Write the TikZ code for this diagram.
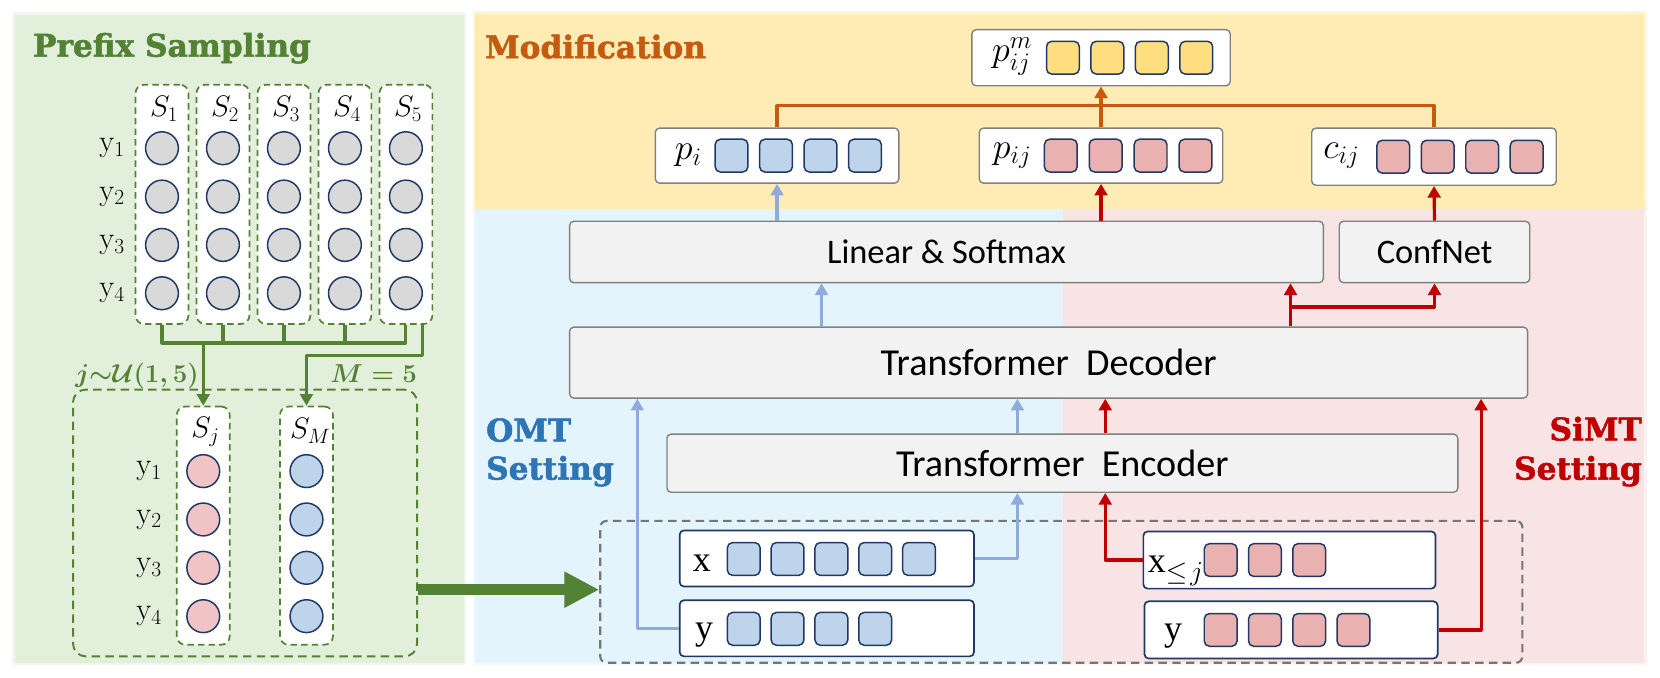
\documentclass[tikz,border=0pt]{standalone}
\usepackage{fix-cm}
\usepackage[no-math]{fontspec}
\setmainfont{Carlito}
\newfontfamily\titlefont[BoldFeatures={FakeBold=1.6}]{DejaVu Serif}
\newfontfamily\serifx{Liberation Serif}
\usetikzlibrary{arrows.meta}
\definecolor{tgreen}{RGB}{84,130,53}
\definecolor{torange}{RGB}{197,90,17}
\definecolor{tblue}{RGB}{46,117,182}
\definecolor{tred}{RGB}{192,0,0}
\definecolor{abl}{RGB}{143,170,220}
\definecolor{bggreen}{RGB}{226,239,218}
\definecolor{bgyellow}{RGB}{255,235,180}
\definecolor{bgblue}{RGB}{227,244,252}
\definecolor{bgpink}{RGB}{248,228,228}
\definecolor{boxfill}{RGB}{242,242,242}
\definecolor{boxgray}{RGB}{128,128,128}
\definecolor{navy}{RGB}{32,56,100}
\definecolor{sqblue}{RGB}{190,212,234}
\definecolor{sqpink}{RGB}{234,177,177}
\definecolor{sqyellow}{RGB}{255,222,128}
\definecolor{cgray}{RGB}{217,217,217}
\definecolor{cpink}{RGB}{240,196,196}
\definecolor{cblue}{RGB}{190,212,234}
\definecolor{dashgray}{RGB}{118,118,118}
\newcommand\ttlfont{\titlefont\bfseries\fontsize{29.5}{31}\selectfont}
\newcommand\mlab{\fontsize{34}{36}\selectfont}
\newcommand\slab{\fontsize{28}{30}\selectfont}
\newcommand\ylab{\fontsize{29}{31}\selectfont}
\newcommand\inlab{\serifx\fontsize{34}{36}\selectfont}
\newcommand\glab{\fontsize{24.5}{26}\selectfont}
\newcommand\bigtxt{\fontsize{36}{38}\selectfont}
\newcommand\midtxt{\fontsize{32.5}{34}\selectfont}
\newcommand\jutext{\mbox{\boldmath$j{\sim}\mathcal{U}(1,5)$}}
\newcommand\mtext{\mbox{\boldmath$M=5$}}
\begin{document}
\begin{tikzpicture}[x=1pt,y=-1pt,line join=round,
  gbox/.style={draw=boxgray,fill=boxfill,rounded corners=4pt,line width=1.3pt,inner sep=0pt},
  wbox/.style={draw=boxgray,fill=white,rounded corners=4pt,line width=1.3pt,inner sep=0pt},
  ibox/.style={draw=navy,fill=white,rounded corners=4pt,line width=1.6pt,inner sep=0pt},
  sq/.style={draw=navy,line width=1.4pt,rounded corners=5pt,minimum width=31pt,minimum height=31pt,inner sep=0pt},
  dot/.style={circle,draw=navy,line width=1.4pt,minimum size=31pt,inner sep=0pt},
  colbox/.style={draw=tgreen,dash pattern=on 6pt off 4pt,line width=1.6pt,fill=white,rounded corners=8pt,inner sep=0pt},
  ttl/.style={font=\ttlfont,inner sep=0pt},
  barrow/.style={draw=abl,line width=3pt,-{Triangle[length=11pt,width=12pt]}},
  rarrow/.style={draw=tred,line width=3pt,-{Triangle[length=11pt,width=12pt]}},
  oarrow/.style={draw=torange,line width=3pt,-{Triangle[length=11pt,width=12pt]}},
  oline/.style={draw=torange,line width=3pt},
  gline/.style={draw=tgreen,line width=3pt},
  garrow/.style={draw=tgreen,line width=3pt,-{Triangle[length=11pt,width=12pt]}},
  bigarrow/.style={draw=tgreen,line width=10pt,-{Triangle[length=33pt,width=32pt]}},
  glow/.style={line width=5pt,opacity=0.45}
]
\useasboundingbox (0,0) rectangle (1568,640.4);
\fill[white] (0,0) rectangle (1568,640.4);
% panels
\draw[glow,draw=bggreen] (14,14) rectangle (438,626);
\fill[bggreen] (14,14) rectangle (438,626);
\draw[glow,draw=bgyellow] (449,13) rectangle (1553,197);
\draw[glow,draw=bgpink] (1004,197) rectangle (1553,626);
\draw[glow,draw=bgblue] (449,197) rectangle (1004,626);
\fill[bgyellow] (449,13) rectangle (1553,197);
\fill[bgblue] (449,197) rectangle (1004,626);
\fill[bgpink] (1004,197) rectangle (1553,626);
% titles
\node[ttl,text=tgreen,anchor=base west] (tps) at (31,53.5) {Prefix Sampling};
\node[ttl,text=torange,anchor=base west] (tmod) at (458,55) {Modification};
\node[ttl,text=tblue,anchor=base west] (tomt1) at (459,417) {OMT};
\node[ttl,text=tblue,anchor=base west] (tomt2) at (459,453) {Setting};
\node[ttl,text=tred,anchor=base east] (tsi1) at (1551,416) {SiMT};
\node[ttl,text=tred,anchor=base east] (tsi2) at (1551,453) {Setting};
% ---------- left panel ----------
\foreach \k in {1,...,5}{
  \pgfmathsetmacro{\cx}{153+57.6*(\k-1)}
  \node[colbox,minimum width=50pt,minimum height=226pt] (col\k) at (\cx,193) {};
  \node[font=\slab,inner sep=0pt] (sl\k) at (\cx+2,103) {$S_{\k}$};
  \foreach \r in {1,...,4}{
    \pgfmathsetmacro{\cy}{140+45.67*(\r-1)}
    \node[dot,fill=cgray] (c\k\r) at (\cx,\cy) {};
  }
}
\foreach \r in {1,...,4}{
  \pgfmathsetmacro{\cy}{140+45.67*(\r-1)}
  \node[font=\ylab,anchor=east,inner sep=0pt] (yl\r) at (118,\cy) {$\mathrm{y}_{\r}$};
}
\node[draw=tgreen,dash pattern=on 8pt off 5pt,line width=1.8pt,rounded corners=12pt,minimum width=325pt,minimum height=252pt] (grp) at (231.5,494) {};
\node[colbox,minimum width=50pt,minimum height=225pt] (sj) at (192,496.5) {};
\node[colbox,minimum width=50pt,minimum height=225pt] (sm) at (289.5,496.5) {};
\node[font=\slab,inner sep=0pt] (slj) at (194,408) {$S_{j}$};
\node[font=\slab,inner sep=0pt] (slm) at (293,407) {$S_{M}$};
\foreach \r in {1,...,4}{
  \pgfmathsetmacro{\cy}{445+45.67*(\r-1)}
  \node[dot,fill=cpink] (pj\r) at (192,\cy) {};
  \node[dot,fill=cblue] (pm\r) at (289.5,\cy) {};
  \node[font=\ylab,anchor=east,inner sep=0pt] (yg\r) at (153,\cy) {$\mathrm{y}_{\r}$};
}
\node[text=tgreen,font=\glab,anchor=base west,inner sep=0pt] (ju) at (71,361) {\jutext};
\node[text=tgreen,font=\glab,anchor=base east,inner sep=0pt] (m5) at (394,361) {\mtext};
\coordinate (hl) at (0,324);
\draw[gline] (col1.south) -- (col1.south |- hl) -- (col5.south |- hl) -- (col5.south);
\foreach \k in {2,3,4}{ \draw[gline] (col\k.south) -- (col\k.south |- hl); }
\draw[garrow] (sj.north |- hl) -- (sj.north);
\draw[garrow] ([xshift=16pt]col5.south) -- ++(0,29) -| (sm.north);
% ---------- right: input ----------
\node[draw=dashgray,dash pattern=on 8pt off 5pt,line width=2pt,rounded corners=6pt,minimum width=871pt,minimum height=134pt] (inbox) at (1002.5,559) {};
\draw[bigarrow] ([yshift=-63pt]grp.east) -- ([yshift=-63pt]grp.east -| inbox.west);
\node[ibox,minimum width=278pt,minimum height=53pt] (xo) at (781,527.5) {};
\node[ibox,minimum width=278pt,minimum height=53pt] (yo) at (781,593.5) {};
\node[ibox,minimum width=276pt,minimum height=54pt] (xs) at (1218,529) {};
\node[ibox,minimum width=277pt,minimum height=54pt] (ys) at (1219.5,595) {};
\node[font=\inlab,inner sep=0pt,anchor=base] (xol) at (663,540) {x};
\node[font=\inlab,inner sep=0pt,anchor=base] (yol) at (665,604) {y};
\node[font=\inlab,inner sep=0pt,anchor=base west] (xsl) at (1084,541) {x\raisebox{-7pt}{\fontsize{26}{28}\selectfont$\le\! j$}};
\node[font=\inlab,inner sep=0pt,anchor=base] (ysl) at (1108,605) {y};
\foreach \k in {1,...,5}{ \node[sq,fill=sqblue] (xo\k) at ({702.5+41.4*(\k-1)},528) {}; }
\foreach \k in {1,...,4}{ \node[sq,fill=sqblue] (yo\k) at ({702.5+41.4*(\k-1)},594) {}; }
\foreach \k in {1,...,3}{ \node[sq,fill=sqpink] (xs\k) at ({1153+41.8*(\k-1)},529) {}; }
\foreach \k in {1,...,4}{ \node[sq,fill=sqpink] (ys\k) at ({1153+41.8*(\k-1)},595) {}; }
% ---------- right: stack ----------
\node[gbox,minimum width=747pt,minimum height=55pt,font=\bigtxt] (enc) at (1003.5,437.5) {Transformer\hspace{0.45em}Encoder};
\node[gbox,minimum width=905pt,minimum height=67pt,font=\bigtxt] (dec) at (990.5,342.5) {Transformer\hspace{0.45em}Decoder};
\node[gbox,minimum width=712pt,minimum height=58pt,font=\midtxt] (lin) at (894,238) {Linear \& Softmax};
\node[gbox,minimum width=180pt,minimum height=58pt,font=\midtxt] (conf) at (1355,238) {ConfNet};
% ---------- top ----------
\node[wbox,minimum width=230pt,minimum height=52pt] (pi) at (734,147) {};
\node[wbox,minimum width=230pt,minimum height=52pt] (pij) at (1040,147) {};
\node[wbox,minimum width=231pt,minimum height=54pt] (cij) at (1354.5,148) {};
\node[wbox,minimum width=244pt,minimum height=53pt] (pmij) at (1040,54.5) {};
\node[font=\mlab,inner sep=0pt] (pil) at (650,147) {$p_i$};
\node[font=\mlab,inner sep=0pt] (pijl) at (956,147) {$p_{ij}$};
\node[font=\mlab,inner sep=0pt] (cijl) at (1267,147) {$c_{ij}$};
\node[font=\mlab,inner sep=0pt] (pml) at (956,53) {$p^{m}_{ij}$};
\foreach \k in {1,...,4}{
  \node[sq,fill=sqblue] (pis\k) at ({691+42*(\k-1)},147) {};
  \node[sq,fill=sqpink] (pijs\k) at ({1002+42.4*(\k-1)},147) {};
  \node[sq,fill=sqpink] (cijs\k) at ({1316+42*(\k-1)},148) {};
  \node[sq,fill=sqyellow] (pms\k) at ({1004+42*(\k-1)},54.5) {};
}
% ---------- connectors ----------
\coordinate (omtL) at (602,0);
\coordinate (omtR) at (961,0);
\coordinate (omtD) at (776,0);
\coordinate (simL) at (1044,0);
\coordinate (simR) at (1399,0);
\coordinate (simD) at (1219,0);
\coordinate (spl) at (0,290);
\coordinate (ol) at (0,100);
% OMT (blue)
\draw[barrow] (yo.west) -| (dec.south -| omtL);
\draw[barrow] (xo.east) -| (enc.south -| omtR);
\draw[barrow] (enc.north -| omtR) -- (dec.south -| omtR);
\draw[barrow] (dec.north -| omtD) -- (lin.south -| omtD);
\draw[barrow] (lin.north -| pi.south) -- (pi.south);
% SiMT (red)
\draw[rarrow] (xs.west) -| (enc.south -| simL);
\draw[rarrow] (enc.north -| simL) -- (dec.south -| simL);
\draw[rarrow] (ys.east) -| (dec.south -| simR);
\draw[rarrow] (dec.north -| simD) -- (lin.south -| simD);
\draw[rarrow] (spl -| simD) -| (conf.south);
\draw[rarrow] (conf.north) -- (cij.south);
\draw[rarrow] (lin.north -| pij.south) -- (pij.south);
% Modification (orange)
\draw[oline] (pi.north) -- (pi.north |- ol) -- (cij.north |- ol) -- (cij.north);
\draw[oarrow] (pij.north) -- (pmij.south);
\end{tikzpicture}
\end{document}
